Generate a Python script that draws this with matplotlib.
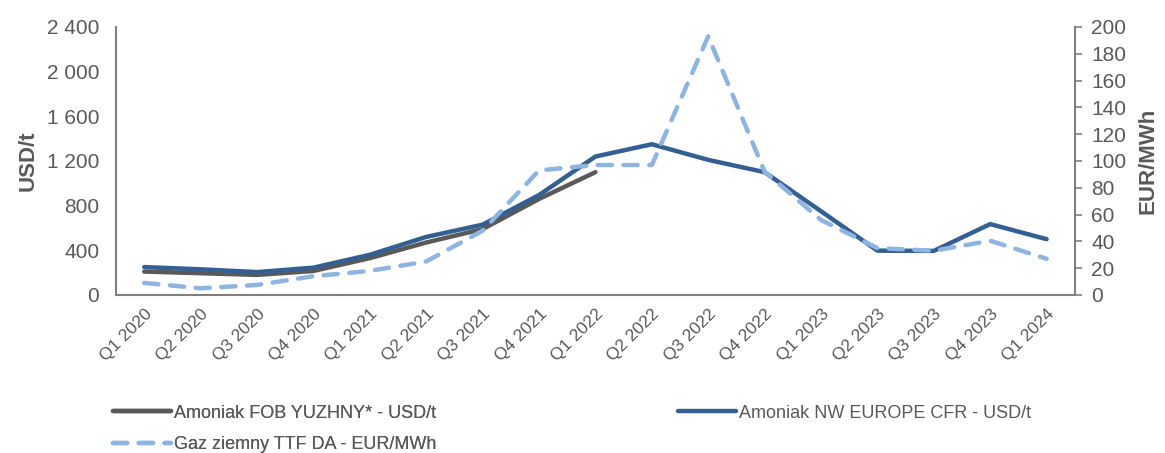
import matplotlib
matplotlib.use("Agg")
import matplotlib.pyplot as plt
from matplotlib.ticker import FuncFormatter

# Dane kwartalne
kwartaly = ["Q1 2020", "Q2 2020", "Q3 2020", "Q4 2020",
            "Q1 2021", "Q2 2021", "Q3 2021", "Q4 2021",
            "Q1 2022", "Q2 2022", "Q3 2022", "Q4 2022",
            "Q1 2023", "Q2 2023", "Q3 2023", "Q4 2023", "Q1 2024"]
fob_yuzhny = [210, 195, 180, 215, 330, 470, 590, 860, 1100]
nw_europe = [250, 230, 205, 245, 360, 520, 630, 895, 1240,
             1350, 1210, 1100, 750, 397, 395, 635, 500]
gaz_ttf = [9, 5, 7.5, 14, 18, 25, 48, 93, 97, 97, 193, 92, 56, 35, 33, 40.5, 27]

szary = "#595959"
ciemny = "#345F92"
jasny = "#8EB4E0"

plt.rcParams['font.family'] = ['Liberation Sans', 'DejaVu Sans']

fig = plt.figure(figsize=(11.65, 4.53), dpi=100)
ax = fig.add_axes([0.0996, 0.3488, 0.823, 0.5916])
ax2 = ax.twinx()

x = list(range(len(kwartaly)))
l1, = ax.plot(x[:len(fob_yuzhny)], fob_yuzhny, color=szary, lw=3.2,
              solid_capstyle='round', label="Amoniak FOB YUZHNY* - USD/t")
l2, = ax.plot(x, nw_europe, color=ciemny, lw=3.2, solid_capstyle='round',
              label="Amoniak NW EUROPE CFR - USD/t")
l3, = ax2.plot(x, gaz_ttf, color=jasny, lw=3.2, dashes=(3.2, 2.6),
               dash_capstyle='round', label="Gaz ziemny TTF DA - EUR/MWh")

ax.set_xlim(-0.5, 16.5)
ax.set_ylim(0, 2400)
ax2.set_ylim(0, 200)
ax.set_yticks(range(0, 2401, 400))
ax2.set_yticks(range(0, 201, 20))
ax.yaxis.set_major_formatter(FuncFormatter(lambda v, p: f"{int(v):,}".replace(",", " ")))

ax.set_xticks(x)
ax.set_xticklabels(kwartaly, rotation=45, ha='right', rotation_mode='anchor',
                   fontsize=12.5, color=szary)

for a in (ax, ax2):
    for s in a.spines.values():
        s.set_visible(False)
ax.spines['left'].set_visible(True)
ax.spines['bottom'].set_visible(True)
ax2.spines['right'].set_visible(True)
for s in (ax.spines['left'], ax.spines['bottom'], ax2.spines['right']):
    s.set_color("#7f7f7f")
    s.set_linewidth(1.5)

ax.tick_params(axis='x', length=0, pad=8)
ax.tick_params(axis='y', length=0, labelsize=15, labelcolor=szary, pad=12)
ax2.tick_params(axis='y', length=5, width=1.2, color="#7f7f7f",
                labelsize=15, labelcolor=szary, pad=7)

ax.set_ylabel("USD/t", fontsize=16, fontweight='bold', color=szary, labelpad=6)
ax2.set_ylabel("EUR/MWh", fontsize=16, fontweight='bold', color=szary, labelpad=8)

# legenda: lewa kolumna (FOB, gaz) i prawa (NW Europe)
opcje = dict(loc='upper left', frameon=False, handlelength=3.2, handletextpad=0.2,
             labelspacing=0.8, labelcolor=szary, borderaxespad=0, borderpad=0,
             prop={'size': 13})
leg1 = fig.legend(handles=[l1, l3], bbox_to_anchor=(0.097, 0.107), **opcje)
fig.add_artist(leg1)
fig.legend(handles=[l2], bbox_to_anchor=(0.582, 0.107), **opcje)

fig.savefig("out.png", dpi=100)
